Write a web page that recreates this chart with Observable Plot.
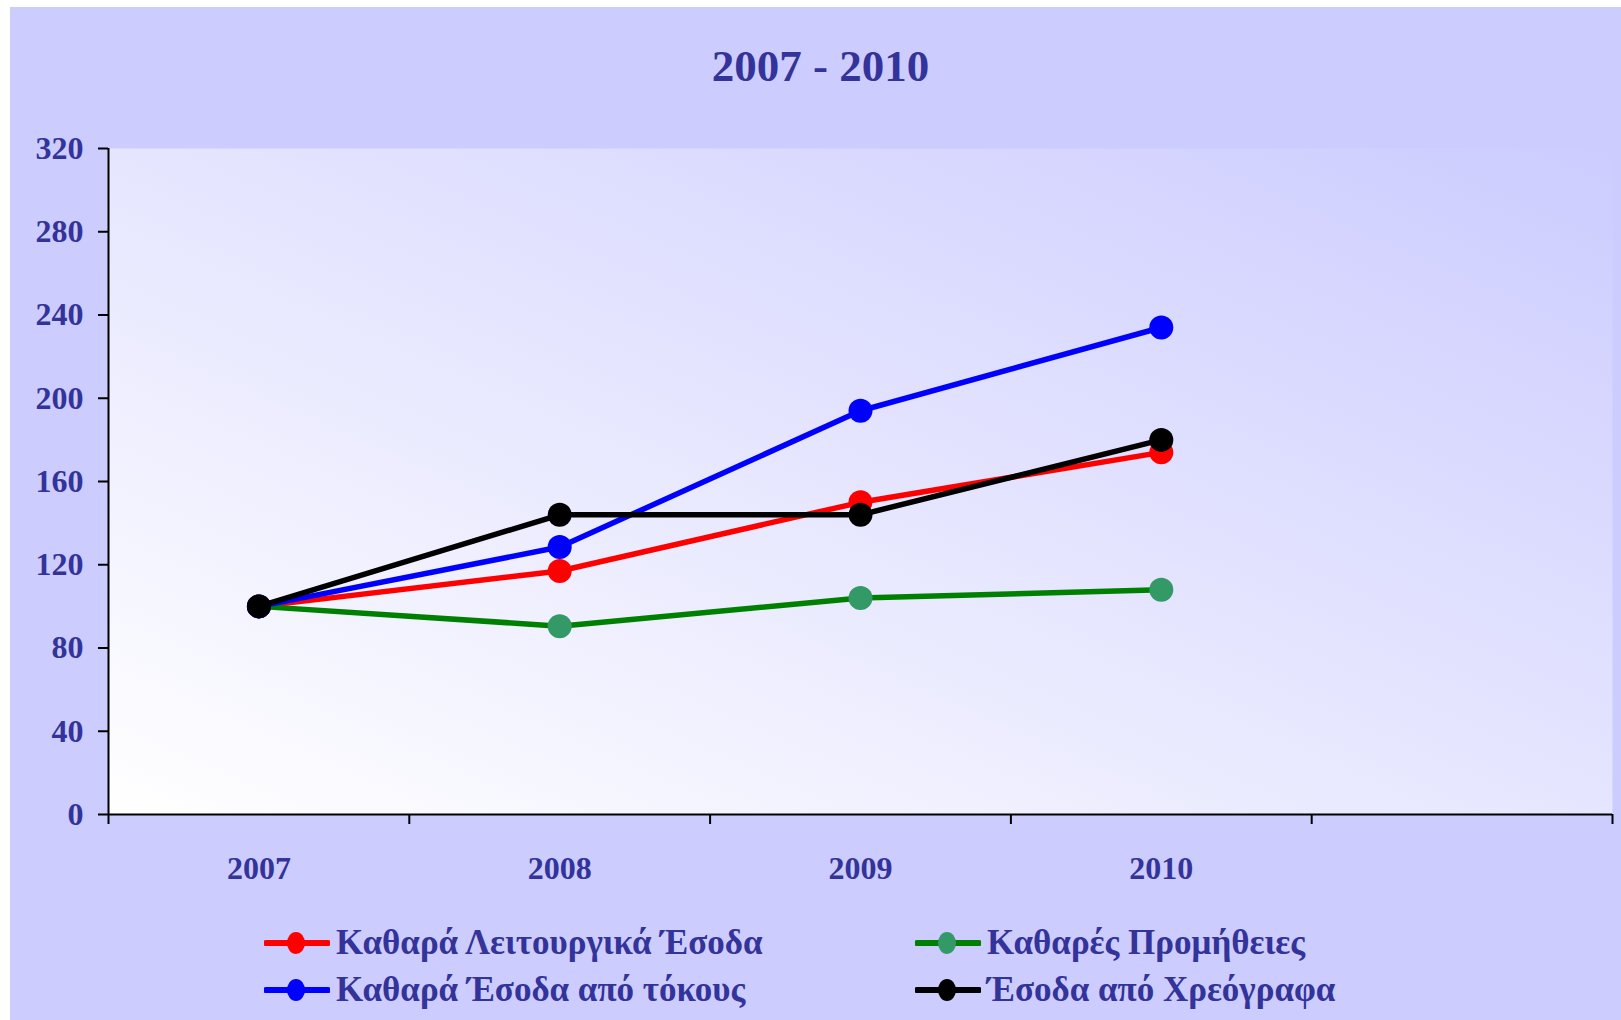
<!DOCTYPE html>
<html>
<head>
<meta charset="utf-8">
<script src="https://cdn.jsdelivr.net/npm/d3@7"></script>
<script src="https://cdn.jsdelivr.net/npm/@observablehq/plot@0.6"></script>
<style>
  body { margin: 0; background: #ffffff; }
  #page { position: relative; width: 1621px; height: 1020px; overflow: hidden; font-family: "Liberation Serif", "DejaVu Serif", serif; }
  #bg { position: absolute; left: 10px; top: 7px; right: 0; bottom: 0; background: #ccccff; }
  #title { position: absolute; left: 20px; right: 0; top: 36px; text-align: center; color: #333399; font-weight: bold; font-size: 45px; line-height: 60px; }
  #chart { position: absolute; left: 0; top: 0; }
  .leg { position: absolute; height: 44px; display: flex; align-items: center; color: #333399; font-weight: bold; font-size: 35px; white-space: nowrap; }
  .leg svg { margin-right: 6px; }
</style>
</head>
<body>
<div id="page">
  <div id="bg"></div>
  <div id="title"></div>
  <div id="chart"></div>
  <div id="legend"></div>
</div>
<script>
const titleText = "2007 - 2010";
const years = ["2007", "2008", "2009", "2010"];
const yTicks = [0, 40, 80, 120, 160, 200, 240, 280, 320];

const seriesNames = [
  "Καθαρά Λειτουργικά Έσοδα",
  "Καθαρές Προμήθειες",
  "Καθαρά Έσοδα από τόκους",
  "Έσοδα από Χρεόγραφα"
];
const netOperatingIncome = [100, 117, 150, 174];
const netCommissions = [100, 90.5, 104, 108];
const netInterestIncome = [100, 128.5, 194, 234];
const securitiesIncome = [100, 144, 144, 180];

const lineColors = ["#ff0000", "#008000", "#0000ff", "#000000"];
const markerColors = ["#ff0000", "#339966", "#0000ff", "#000000"];
// draw order: red, green, blue, black
const seriesValues = [netOperatingIncome, netCommissions, netInterestIncome, securitiesIncome];

document.getElementById("title").textContent = titleText;

const rows = [];
seriesValues.forEach((vals, si) => vals.forEach((v, i) => rows.push({si, name: seriesNames[si], i, year: years[i], v})));

const seriesMarks = [];
seriesValues.forEach((vals, si) => {
  const data = rows.filter(d => d.si === si);
  seriesMarks.push(Plot.line(data, {x: d => d.i + 0.5, y: "v", stroke: lineColors[si], strokeWidth: 5.5, strokeLinejoin: "round", strokeLinecap: "round"}));
  seriesMarks.push(Plot.dot(data, {x: d => d.i + 0.5, y: "v", r: 12, fill: markerColors[si], stroke: null}));
});

const nBands = years.length + 1;

const svg = Plot.plot({
  width: 1621,
  height: 920,
  marginTop: 148,
  marginBottom: 106,
  marginLeft: 108,
  marginRight: 9,
  x: {type: "linear", domain: [0, nBands], axis: null},
  y: {domain: [0, 320], axis: null},
  style: {background: "transparent", fontFamily: "'Liberation Serif', serif", overflow: "visible"},
  marks: [
    Plot.frame({fill: "url(#plotbg)", stroke: null}),
    Plot.axisY({ticks: yTicks, tickSize: 10, tickPadding: 15, stroke: "black", strokeWidth: 2, fill: "#333399", fontSize: 32, fontWeight: "bold", label: null}),
    Plot.axisX({ticks: d3.range(0, nBands + 1), tickSize: 10, tickFormat: () => "", stroke: "black", strokeWidth: 2, label: null}),
    Plot.ruleX([0], {stroke: "black", strokeWidth: 2}),
    Plot.ruleY([0], {stroke: "black", strokeWidth: 2}),
    Plot.text(years, {x: (d, i) => i + 0.5, frameAnchor: "bottom", dy: 64, text: d => d, fill: "#333399", fontSize: 32, fontWeight: "bold"}),
    ...seriesMarks
  ]
});

const defs = d3.select(svg).insert("defs", ":first-child");
const grad = defs.append("linearGradient").attr("id", "plotbg")
  .attr("x1", 0).attr("y1", 1).attr("x2", 1).attr("y2", 0);
grad.append("stop").attr("offset", 0).attr("stop-color", "#ffffff");
grad.append("stop").attr("offset", 1).attr("stop-color", "#ccccff");

document.getElementById("chart").appendChild(svg);

// legend
const legendPos = [
  {left: 264, top: 921}, // red
  {left: 915, top: 921}, // green
  {left: 264, top: 968}, // blue
  {left: 915, top: 968}  // black
];
const legend = document.getElementById("legend");
seriesNames.forEach((name, si) => {
  const div = document.createElement("div");
  div.className = "leg";
  div.style.left = legendPos[si].left + "px";
  div.style.top = legendPos[si].top + "px";
  div.innerHTML = `<svg width="66" height="24" viewBox="0 0 66 24"><line x1="2" y1="12" x2="64" y2="12" stroke="${lineColors[si]}" stroke-width="6" stroke-linecap="round"/><ellipse cx="32" cy="12" rx="9" ry="11" fill="${markerColors[si]}"/></svg><span></span>`;
  div.querySelector("span").textContent = name;
  legend.appendChild(div);
});
</script>
</body>
</html>
